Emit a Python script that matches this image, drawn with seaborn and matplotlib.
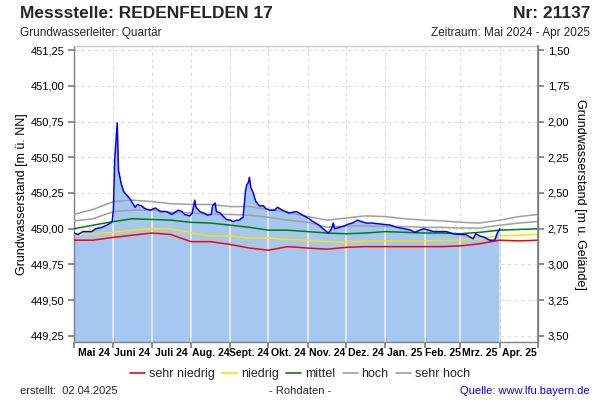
import matplotlib
matplotlib.use("Agg")
import matplotlib.pyplot as plt
import matplotlib.dates as mdates
from matplotlib.ticker import FixedLocator, FuncFormatter
from matplotlib.lines import Line2D
import seaborn as sns
import pandas as pd
import numpy as np

# ---------------- data ----------------
level_dates = ["2024-05-01","2024-05-04","2024-05-08","2024-05-15","2024-05-18","2024-05-23","2024-05-28","2024-05-31",
    "2024-06-01","2024-06-02","2024-06-04","2024-06-05","2024-06-07","2024-06-09","2024-06-11","2024-06-14","2024-06-18",
    "2024-06-20","2024-06-23","2024-06-26","2024-06-30","2024-07-04","2024-07-08","2024-07-13","2024-07-17","2024-07-22",
    "2024-07-25","2024-07-27","2024-07-31","2024-08-02","2024-08-04","2024-08-05","2024-08-08","2024-08-11","2024-08-14",
    "2024-08-17","2024-08-18","2024-08-20","2024-08-21","2024-08-24","2024-08-26","2024-08-29","2024-09-01","2024-09-03",
    "2024-09-06","2024-09-08","2024-09-11","2024-09-13","2024-09-14","2024-09-15","2024-09-16","2024-09-17","2024-09-19",
    "2024-09-21","2024-09-24","2024-09-27","2024-09-29","2024-10-02","2024-10-06","2024-10-08","2024-10-12","2024-10-17",
    "2024-10-23","2024-10-27","2024-10-31","2024-11-02","2024-11-05","2024-11-09","2024-11-13","2024-11-17","2024-11-19",
    "2024-11-21","2024-11-22","2024-11-26","2024-11-30","2024-12-02","2024-12-06","2024-12-10","2024-12-13","2024-12-17",
    "2024-12-21","2024-12-26","2024-12-31","2025-01-05","2025-01-10","2025-01-16","2025-01-21","2025-01-24","2025-01-28",
    "2025-01-31","2025-02-04","2025-02-08","2025-02-13","2025-02-18","2025-02-23","2025-02-28","2025-03-05","2025-03-11",
    "2025-03-13","2025-03-16","2025-03-20","2025-03-24","2025-03-28","2025-03-30","2025-04-01"]
level_values = [449.97,449.96,449.98,449.98,450.00,450.01,450.03,450.05,
    450.13,450.48,450.74,450.41,450.32,450.26,450.24,450.21,450.15,
    450.17,450.16,450.14,450.13,450.145,450.12,450.12,450.10,450.13,
    450.12,450.10,450.09,450.11,450.20,450.15,450.12,450.11,450.095,
    450.10,450.16,450.18,450.12,450.11,450.09,450.065,450.06,450.05,
    450.06,450.06,450.08,450.27,450.31,450.32,450.36,450.29,450.25,
    450.19,450.16,450.16,450.14,450.13,450.13,450.15,450.13,450.11,
    450.12,450.10,450.08,450.07,450.05,450.03,450.00,449.97,449.99,
    450.04,450.00,450.01,450.02,450.03,450.04,450.06,450.05,450.04,
    450.04,450.035,450.03,450.025,450.01,450.00,449.99,449.975,449.99,
    450.00,449.99,449.98,449.98,449.98,449.965,449.96,449.96,449.93,
    449.965,449.95,449.94,449.92,449.92,449.97,450.00]

ref_dates = ["2024-05-01","2024-05-16","2024-06-01","2024-06-16","2024-07-01","2024-07-16","2024-08-01","2024-08-16",
    "2024-09-01","2024-09-16","2024-10-01","2024-10-16","2024-11-01","2024-11-16","2024-12-01","2024-12-16",
    "2025-01-01","2025-01-16","2025-02-01","2025-02-15","2025-03-01","2025-03-16","2025-04-01","2025-04-16","2025-05-01"]
sehr_niedrig = [449.92,449.92,449.94,449.955,449.97,449.96,449.91,449.91,449.89,449.865,449.85,449.875,449.865,
    449.857,449.87,449.875,449.875,449.875,449.875,449.875,449.88,449.895,449.92,449.915,449.92]
niedrig = [449.96,449.965,449.975,449.99,450.00,450.00,449.97,449.95,449.95,449.935,449.935,449.925,449.92,
    449.91,449.905,449.915,449.915,449.915,449.915,449.92,449.92,449.93,449.95,449.955,449.96]
mittel = [450.00,450.025,450.05,450.07,450.065,450.06,450.045,450.04,450.025,450.01,449.99,449.99,449.98,
    449.97,449.965,449.97,449.98,449.975,449.97,449.97,449.965,449.975,449.99,449.995,450.00]
hoch = [450.055,450.07,450.12,450.13,450.13,450.115,450.11,450.10,450.10,450.095,450.08,450.06,450.045,
    450.01,450.02,450.02,450.015,450.015,450.01,450.01,450.005,450.005,450.025,450.04,450.05]
sehr_hoch = [450.10,450.135,450.19,450.20,450.19,450.175,450.17,450.17,450.155,450.155,450.135,450.115,450.085,
    450.06,450.075,450.09,450.085,450.07,450.06,450.055,450.045,450.04,450.06,450.085,450.10]

month_starts = ["2024-05-01","2024-06-01","2024-07-01","2024-08-01","2024-09-01","2024-10-01","2024-11-01",
    "2024-12-01","2025-01-01","2025-02-01","2025-03-01","2025-04-01","2025-05-01"]
month_labels = ["Mai 24","Juni 24","Juli 24","Aug. 24","Sept. 24","Okt. 24","Nov. 24","Dez. 24",
    "Jan. 25","Feb. 25","Mrz. 25","Apr. 25"]
left_ticks = [449.25,449.50,449.75,450.00,450.25,450.50,450.75,451.00,451.25]
right_ticks = [1.50,1.75,2.00,2.25,2.50,2.75,3.00,3.25,3.50]
gelaende = 452.75

# ---------------- style ----------------
sns.set_theme(style="white")
plt.rcParams['font.family'] = ['Liberation Sans', 'DejaVu Sans']

fig = plt.figure(figsize=(6, 4), dpi=100)
ax = fig.add_axes([74/600, 58/400, 464/600, 296/400])
ymin, ymax = 449.208, 451.278

lvl = pd.DataFrame({"datum": pd.to_datetime(level_dates), "wert": level_values})
ref = pd.DataFrame({"datum": pd.to_datetime(ref_dates), "sehr niedrig": sehr_niedrig, "niedrig": niedrig,
                    "mittel": mittel, "hoch": hoch, "sehr hoch": sehr_hoch})
ms = pd.to_datetime(month_starts)

fill = ax.fill_between(lvl["datum"], lvl["wert"], ymin, color="#a6c8f0", lw=0, zorder=1)

# grid
ax.set_axisbelow(True)
for d in ms:
    ax.axvline(d, color="#dcdcdc", lw=0.8, ls=(0, (3, 3)), zorder=0.5)
    ln = ax.axvline(d, color="#e8eef6", lw=1.2, zorder=2)
    ln.set_clip_path(fill.get_paths()[0], fill.get_transform())
for t in left_ticks:
    ax.axhline(t, color="#dcdcdc", lw=0.8, ls=(0, (3, 3)), zorder=0.5)

ref_colors = {"sehr niedrig": "#ff0000", "niedrig": "#ffe000", "mittel": "#008000",
              "hoch": "#a0a0a0", "sehr hoch": "#a0a0a0"}
for name, col in ref_colors.items():
    sns.lineplot(data=ref, x="datum", y=name, color=col, lw=1.1, ax=ax, zorder=3, legend=False)

sns.lineplot(data=lvl, x="datum", y="wert", color="#0000ff", lw=1.1, ax=ax, zorder=4, legend=False)

ax.set_xlim(ms[0], ms[-1])
ax.set_ylim(ymin, ymax)
ax.set_xlabel("")
ax.set_ylabel("Grundwasserstand [m ü. NN]", fontsize=9, color="black")
ax.yaxis.set_label_coords(-46/464, 0.5)

ax.xaxis.set_major_locator(FixedLocator(mdates.date2num(ms)))
ax.xaxis.set_major_formatter(FuncFormatter(lambda v, p: ""))
mids = [mdates.date2num(ms[i]) + (mdates.date2num(ms[i+1]) - mdates.date2num(ms[i])) / 2 for i in range(12)]
ax.xaxis.set_minor_locator(FixedLocator(mids))
ax.set_xticks(mids, month_labels, minor=True)
ax.tick_params(axis="x", which="major", direction="out", length=4, color="#808080", bottom=True)
ax.tick_params(axis="x", which="minor", length=0, labelsize=7.5, pad=4, labelcolor="black")
for lab in ax.get_xticklabels(minor=True):
    lab.set_fontweight("bold")

ax.set_yticks(left_ticks)
ax.yaxis.set_major_formatter(FuncFormatter(lambda v, p: f"{v:.2f}".replace(".", ",")))
ax.tick_params(axis="y", direction="out", length=4, color="#808080", left=True, labelsize=8, labelcolor="black", pad=3)

for s in ax.spines.values():
    s.set_color("#808080")
    s.set_linewidth(1)
ax.spines["top"].set_color("#c8c8c8")

ax2 = ax.twinx()
ax2.set_ylim(gelaende - ymin, gelaende - ymax)
ax2.set_yticks(right_ticks)
ax2.yaxis.set_major_formatter(FuncFormatter(lambda v, p: f"{v:.2f}".replace(".", ",")))
ax2.tick_params(axis="y", direction="out", length=4, color="#808080", right=True, labelsize=8, labelcolor="black", pad=3)
ax2.set_ylabel("Grundwasserstand [m u. Gelände]", fontsize=9, rotation=270, color="black", va="center")
ax2.yaxis.set_label_coords(1 + 42/464, 0.5)
ax2.grid(False)
for s in ax2.spines.values():
    s.set_visible(False)
ax2.spines["right"].set_visible(True)
ax2.spines["right"].set_color("#808080")

handles = [Line2D([], [], color=c, lw=1.2) for c in ref_colors.values()]
fig.legend(handles, list(ref_colors.keys()), loc="center", bbox_to_anchor=(300/600, 1 - 374/400), ncol=5,
           frameon=False, fontsize=9, handlelength=1.2, handletextpad=0.3, columnspacing=0.6,
           borderpad=0, borderaxespad=0)

fig.text(20/600, 1 - 13/400, "Messstelle: REDENFELDEN 17", fontsize=12.5, fontweight="bold", va="center", ha="left")
fig.text(590/600, 1 - 13/400, "Nr: 21137", fontsize=12.5, fontweight="bold", va="center", ha="right")
fig.text(20/600, 1 - 33/400, "Grundwasserleiter: Quartär", fontsize=8.5, va="center", ha="left")
fig.text(590/600, 1 - 33/400, "Zeitraum: Mai 2024 - Apr 2025", fontsize=8.5, va="center", ha="right")
fig.text(20/600, 1 - 391/400, "erstellt:  02.04.2025", fontsize=8, va="center", ha="left")
fig.text(300/600, 1 - 391/400, "- Rohdaten -", fontsize=8, va="center", ha="center")
fig.text(590/600, 1 - 391/400, "Quelle: www.lfu.bayern.de", fontsize=8, va="center", ha="right", color="#0000ff")

fig.savefig("out.png", dpi=100, facecolor="white")
